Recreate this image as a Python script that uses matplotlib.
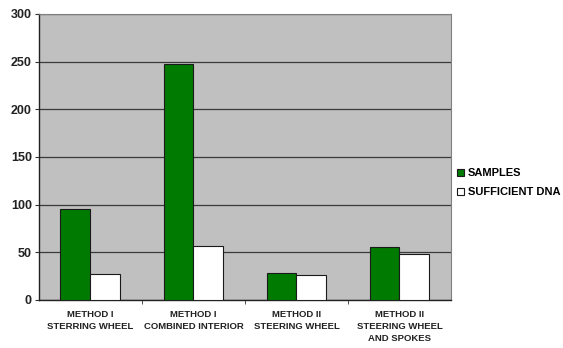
import matplotlib.pyplot as plt
import numpy as np

categories = ["METHOD I\nSTERRING WHEEL", "METHOD I\nCOMBINED INTERIOR",
              "METHOD II\nSTEERING WHEEL", "METHOD II\nSTEERING WHEEL\nAND SPOKES"]
samples = [95, 248, 28, 56]
sufficient_dna = [27, 57, 26, 48]

plt.rcParams['font.family'] = ['Liberation Sans', 'DejaVu Sans']

fig = plt.figure(figsize=(5.63, 3.48), dpi=100)
ax = fig.add_axes([0.069, 0.138, 0.732, 0.822])
ax.set_facecolor("#c0c0c0")

x = np.arange(len(categories))
w = 0.29
ax.bar(x - w / 2, samples, w, color="#007a00", edgecolor="#1a1a1a", linewidth=0.8,
       label="SAMPLES", zorder=3)
ax.bar(x + w / 2, sufficient_dna, w, color="white", edgecolor="#1a1a1a", linewidth=0.8,
       label="SUFFICIENT DNA", zorder=3)

ax.set_xlim(-0.5, len(categories) - 0.5)
ax.set_ylim(0, 300)
ax.set_yticks(range(0, 301, 50))
ax.yaxis.grid(True, color="#3a3a3a", linewidth=0.9, zorder=1)
ax.set_axisbelow(True)

ax.set_xticks(x)
ax.set_xticklabels(categories, fontsize=6.8, fontweight="bold", color="#222222",
                   linespacing=1.45)
ax.set_xticks(np.arange(0.5, len(categories) - 0.5, 1), minor=True)
ax.tick_params(axis="x", which="major", length=0, pad=7)
ax.tick_params(axis="x", which="minor", length=3, color="#333333")
ax.tick_params(axis="y", length=3, color="#333333", labelsize=9, pad=2)
for lab in ax.get_yticklabels():
    lab.set_fontweight("bold")
    lab.set_color("#222222")

for s in ["left", "bottom"]:
    ax.spines[s].set_color("#222222")
    ax.spines[s].set_linewidth(1.0)
for s in ["top", "right"]:
    ax.spines[s].set_color("#808080")
    ax.spines[s].set_linewidth(0.8)

fig.legend(loc="center left", bbox_to_anchor=(0.812, 0.475), frameon=False,
           borderpad=0, borderaxespad=0,
           handlelength=0.6, handleheight=0.6, handletextpad=0.35,
           labelspacing=0.8, prop={"size": 8.0, "weight": "bold"})

fig.savefig("out.png", dpi=100)
